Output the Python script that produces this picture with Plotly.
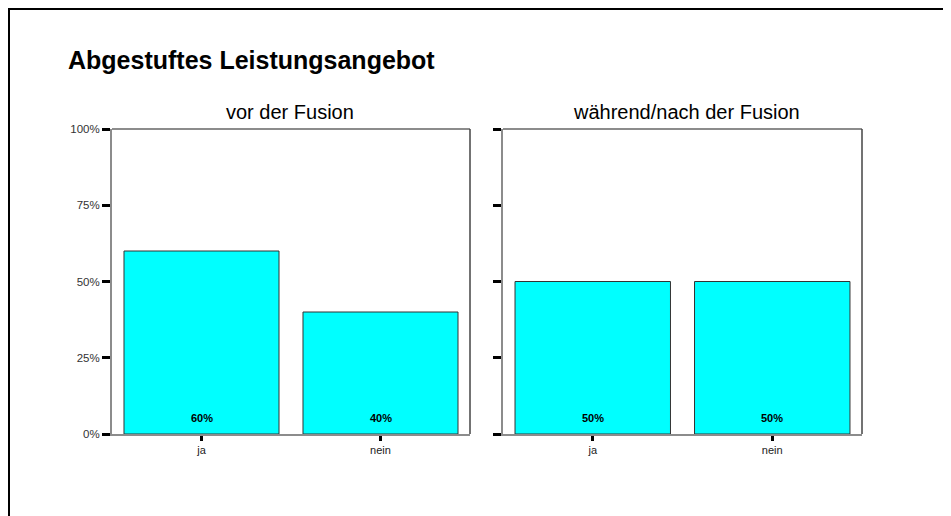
import plotly.graph_objects as go

W, H = 951, 516
OFF = 8  # page body margin offset in the browser

categories = ["ja", "nein"]
panel_titles = ["vor der Fusion", "während/nach der Fusion"]
values_vor = [60, 40]
values_nach = [50, 50]
y_ticks = [0, 25, 50, 75, 100]
y_ticklabels = ["0%", "25%", "50%", "75%", "100%"]
chart_title = "Abgestuftes Leistungsangebot"

FONT = "Liberation Sans, Arial, sans-serif"

def px_x(p):
    return (p - OFF) / W

def px_y(p):
    return 1 - (p - OFF) / H

dom_x = [[px_x(112), px_x(470)], [px_x(503), px_x(862)]]
dom_y = [px_y(434), px_y(129)]

fig = go.Figure()
series = [values_vor, values_nach]
for i, vals in enumerate(series):
    ax = "" if i == 0 else str(i + 1)
    fig.add_trace(go.Bar(
        x=categories, y=vals,
        xaxis="x" + ax, yaxis="y" + ax,
        marker=dict(color="#00FFFF", line=dict(color="#333333", width=1)),
        showlegend=False, hoverinfo="x+y",
    ))
    for c, v in zip(categories, vals):
        fig.add_annotation(
            x=c, y=0, xref="x" + ax, yref="y" + ax,
            text=f"<b>{v}%</b>", showarrow=False,
            yanchor="bottom", yshift=8,
            font=dict(family=FONT, size=11, color="#000000"),
        )

layout = dict(
    width=W, height=H,
    margin=dict(l=0, r=0, t=0, b=0),
    paper_bgcolor="white", plot_bgcolor="white",
    bargap=0.134,
    font=dict(family=FONT, color="#222222"),
)
for i in range(2):
    ax = "" if i == 0 else str(i + 1)
    layout["xaxis" + ax] = dict(
        domain=dom_x[i], anchor="y" + ax,
        showline=True, linecolor="#8c8c8c", linewidth=2,
        ticks="outside", ticklen=5, tickwidth=3, tickcolor="#000000",
        showgrid=False, zeroline=False, automargin=False,
        tickfont=dict(family=FONT, size=11, color="#222222"),
        fixedrange=True,
    )
    layout["yaxis" + ax] = dict(
        domain=dom_y, anchor="x" + ax, range=[0, 100],
        tickvals=y_ticks, ticktext=y_ticklabels, showticklabels=(i == 0),
        showline=True, linecolor="#8c8c8c", linewidth=2,
        ticks="outside", ticklen=8, tickwidth=3, tickcolor="#000000",
        showgrid=False, zeroline=False, automargin=False,
        tickfont=dict(family=FONT, size=11.5, color="#333333"),
        fixedrange=True,
    )
fig.update_layout(**layout)

shapes = []
for i in range(2):
    ax = "" if i == 0 else str(i + 1)
    shapes.append(dict(type="line", xref="x" + ax + " domain", yref="y" + ax + " domain",
                       x0=0, x1=1, y0=1, y1=1, line=dict(color="#8c8c8c", width=2)))
    shapes.append(dict(type="line", xref="x" + ax + " domain", yref="y" + ax + " domain",
                       x0=1, x1=1, y0=0, y1=1, line=dict(color="#444444", width=1.5)))
# outer frame (top + left)
shapes.append(dict(type="line", xref="paper", yref="paper",
                   x0=px_x(8), x1=1, y0=px_y(9), y1=px_y(9),
                   line=dict(color="#000000", width=2)))
shapes.append(dict(type="line", xref="paper", yref="paper",
                   x0=px_x(9), x1=px_x(9), y0=px_y(8), y1=0,
                   line=dict(color="#000000", width=2)))
fig.update_layout(shapes=shapes)

fig.add_annotation(x=px_x(66), y=px_y(60), xref="paper", yref="paper",
                   text=f"<b>{chart_title}</b>", showarrow=False,
                   xanchor="left", yanchor="middle",
                   font=dict(family=FONT, size=25, color="#000000"))
centers = [290, 686]
for t, cx in zip(panel_titles, centers):
    fig.add_annotation(x=px_x(cx), y=px_y(112), xref="paper", yref="paper",
                       text=t, showarrow=False, xanchor="center", yanchor="middle",
                       font=dict(family=FONT, size=20, color="#000000"))

fig.write_html("out.html", config={"displayModeBar": False})
